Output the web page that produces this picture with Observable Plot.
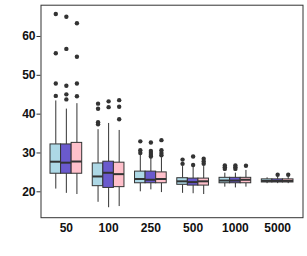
<!DOCTYPE html>
<html>
<head>
<meta charset="utf-8">
<script src="https://cdn.jsdelivr.net/npm/d3@7"></script>
<script src="https://cdn.jsdelivr.net/npm/@observablehq/plot@0.6"></script>
<style>
  html, body { margin: 0; padding: 0; background: #fff; }
  svg { display: block; }
  svg text { font-size: 12px; font-weight: bold; }
</style>
</head>
<body>
<div id="chart"></div>
<script>
const groups = ["50", "100", "250", "500", "1000", "5000"];
const seriesNames = ["A", "B", "C"];
const seriesColors = ["#ADD8E6", "#6A5ACD", "#FFC0CB"];

// Series A (light blue)
const lowA  = [20.7, 17.3, 20.0, 19.6, 21.2, 22.1];
const q1A   = [24.65, 21.45, 22.2, 21.8, 22.2, 22.4];
const medA  = [27.75, 23.95, 23.3, 22.7, 22.9, 22.8];
const q3A   = [32.2, 27.3, 25.2, 23.5, 23.6, 23.2];
const highA = [43.4, 36.0, 29.4, 26.5, 24.8, 23.6];
const outA  = [[65.8, 55.7, 47.9, 44.7], [42.7, 41.4, 37.9, 37.4], [33.0, 30.7, 30.0], [28.3, 27.2], [26.8, 26.3, 25.9], []];

// Series B (slate blue)
const lowB  = [19.6, 15.9, 20.5, 19.5, 21.0, 22.1];
const q1B   = [24.65, 21.0, 22.2, 21.6, 22.2, 22.4];
const medB  = [27.5, 24.9, 23.1, 22.5, 22.9, 22.8];
const q3B   = [32.2, 27.75, 25.2, 23.4, 23.6, 23.2];
const highB = [41.3, 37.6, 28.9, 26.4, 24.8, 23.8];
const outB  = [[65.1, 56.8, 47.3, 45.1, 43.8], [43.3, 41.8], [32.7, 30.5, 30.0, 29.5, 29.1], [29.1, 26.9], [26.8, 26.3, 25.9], [24.4]];

// Series C (pink)
const lowC  = [19.3, 16.2, 19.8, 19.3, 21.2, 22.1];
const q1C   = [24.65, 21.2, 22.2, 21.6, 22.2, 22.4];
const medC  = [27.8, 24.55, 23.3, 22.7, 23.1, 22.8];
const q3C   = [32.6, 27.5, 25.0, 23.4, 23.6, 23.2];
const highC = [42.7, 35.8, 28.8, 26.5, 25.5, 23.8];
const outC  = [[63.4, 54.8, 47.9, 44.6], [43.6, 41.9, 38.7], [33.3, 30.7, 30.0, 29.4], [28.5, 27.8, 27.2], [26.7], [24.4]];

const yTicks = [20, 30, 40, 50, 60];

const stats = [
  {low: lowA, q1: q1A, med: medA, q3: q3A, high: highA, out: outA},
  {low: lowB, q1: q1B, med: medB, q3: q3B, high: highB, out: outB},
  {low: lowC, q1: q1C, med: medC, q3: q3C, high: highC, out: outC}
];

// dodge layout (ggplot-like: dodge width 0.75, three boxes per group)
const dodge = 0.75;
const bw = dodge / seriesNames.length;
const boxes = [];
const outliers = [];
stats.forEach((s, si) => {
  groups.forEach((g, gi) => {
    const xc = gi - dodge / 2 + bw * (si + 0.5);
    boxes.push({series: seriesNames[si], xc, x1: xc - bw / 2, x2: xc + bw / 2,
      low: s.low[gi], q1: s.q1[gi], med: s.med[gi], q3: s.q3[gi], high: s.high[gi]});
    s.out[gi].forEach(v => outliers.push({series: seriesNames[si], xc, v}));
  });
});

const ink = "#333333";
const chart = Plot.plot({
  width: 307,
  height: 256,
  marginLeft: 40.5,
  marginRight: 4.5,
  marginTop: 4.7,
  marginBottom: 38.8,
  style: {fontFamily: "'Liberation Sans', Arial, Helvetica, sans-serif", fontSize: "12px", fontWeight: "bold", background: "#fff"},
  x: {type: "linear", domain: [-0.6, groups.length - 0.4], axis: null},
  y: {domain: [13.33, 68.06], axis: null},
  color: {domain: seriesNames, range: seriesColors},
  marks: [
    Plot.ruleX(boxes, {x: "xc", y1: "q3", y2: "high", stroke: ink, strokeWidth: 1}),
    Plot.ruleX(boxes, {x: "xc", y1: "low", y2: "q1", stroke: ink, strokeWidth: 1}),
    Plot.rect(boxes, {x1: "x1", x2: "x2", y1: "q1", y2: "q3", fill: "series", stroke: ink, strokeWidth: 1}),
    Plot.ruleY(boxes, {x1: "x1", x2: "x2", y: "med", stroke: ink, strokeWidth: 2}),
    Plot.dot(outliers, {x: "xc", y: "v", r: 2.2, fill: ink, stroke: "none"}),
    Plot.frame({stroke: ink, strokeWidth: 1}),
    Plot.axisY({ticks: yTicks, tickSize: 4, tickPadding: 1.5, fontSize: 12, fontWeight: "bold", fill: "#111", stroke: ink}),
    Plot.axisX({ticks: d3.range(groups.length), tickFormat: i => groups[i], tickSize: 0, tickPadding: 6, fontSize: 12, fontWeight: "bold", fill: "#111"})
  ]
});
document.getElementById("chart").appendChild(chart);
</script>
</body>
</html>
